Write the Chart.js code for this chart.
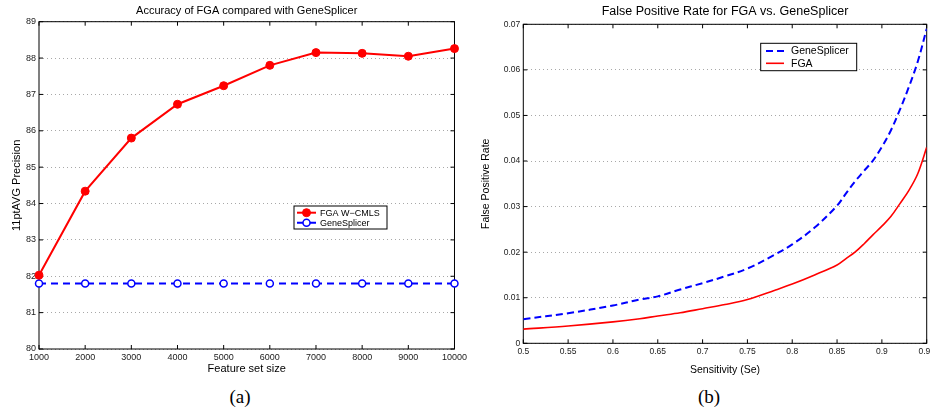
<!DOCTYPE html>
<html>
<head>
<meta charset="utf-8">
<script src="https://cdn.jsdelivr.net/npm/chart.js@4.4.1/dist/chart.umd.min.js"></script>
<style>
  html, body { margin: 0; padding: 0; background: #fff; width: 930px; height: 416px; overflow: hidden; }
  .wrap { position: absolute; top: 0; width: 470px; height: 385px; }
  #wrap-a { left: 0; }
  #wrap-b { left: 470px; }
  .cap { position: absolute; top: 385px; width: 60px; text-align: center; font-family: "Liberation Serif", "Times New Roman", serif; font-size: 19px; line-height: 24px; color: #000; }
</style>
</head>
<body>
<div class="wrap" id="wrap-a"><canvas id="chartA" width="470" height="385"></canvas></div>
<div class="wrap" id="wrap-b"><canvas id="chartB" width="470" height="385"></canvas></div>
<div class="cap" style="left:210px">(a)</div>
<div class="cap" style="left:679px">(b)</div>
<script>
// (a) accuracy vs feature set size
const featureSizes = [1000, 2000, 3000, 4000, 5000, 6000, 7000, 8000, 9000, 10000];
const fgaPrecision = [82.03, 84.34, 85.80, 86.73, 87.24, 87.80, 88.15, 88.13, 88.05, 88.26];
const genePrecision = [81.8, 81.8, 81.8, 81.8, 81.8, 81.8, 81.8, 81.8, 81.8, 81.8];
const precisionTicks = [80, 81, 82, 83, 84, 85, 86, 87, 88, 89];

// (b) false positive rate vs sensitivity
const sensitivity = [0.5, 0.55, 0.6, 0.63, 0.65, 0.675, 0.7, 0.725, 0.75, 0.78, 0.8, 0.825, 0.85, 0.86, 0.87, 0.88, 0.89, 0.9, 0.91, 0.92, 0.93, 0.94, 0.95];
const geneFpr = [0.0053, 0.0066, 0.0083, 0.0096, 0.0103, 0.0118, 0.0132, 0.0147, 0.0164, 0.0194, 0.0217, 0.0254, 0.0302, 0.0329, 0.0355, 0.0378, 0.0401, 0.0431, 0.0467, 0.0512, 0.0562, 0.0618, 0.0690];
const fgaFpr = [0.0031, 0.0038, 0.0047, 0.0054, 0.0060, 0.0067, 0.0076, 0.0085, 0.0096, 0.0116, 0.0130, 0.0150, 0.0172, 0.0186, 0.0200, 0.0218, 0.0238, 0.0257, 0.0278, 0.0306, 0.0335, 0.0372, 0.0430];
const sensTicks = [0.5, 0.55, 0.6, 0.65, 0.7, 0.75, 0.8, 0.85, 0.9, 0.95];
const fprTicks = [0, 0.01, 0.02, 0.03, 0.04, 0.05, 0.06, 0.07];

const FONT = "'Liberation Sans', Arial, Helvetica, sans-serif";

function toPoints(xs, ys) {
  return xs.map((x, i) => ({ x: x, y: ys[i] }));
}

// matlab style box with inward tick marks
const boxPlugin = {
  id: "matlabBox",
  beforeDatasetsDraw(chart) {
    const { ctx, chartArea: a, scales } = chart;
    const len = 4;
    ctx.save();
    ctx.strokeStyle = "#000";
    ctx.lineWidth = 1;
    ctx.setLineDash([]);
    ctx.strokeRect(a.left, a.top, a.right - a.left, a.bottom - a.top);
    ctx.beginPath();
    scales.x.ticks.forEach((t) => {
      const px = scales.x.getPixelForValue(t.value);
      ctx.moveTo(px, a.bottom);
      ctx.lineTo(px, a.bottom - len);
      ctx.moveTo(px, a.top);
      ctx.lineTo(px, a.top + len);
    });
    scales.y.ticks.forEach((t) => {
      const py = scales.y.getPixelForValue(t.value);
      ctx.moveTo(a.left, py);
      ctx.lineTo(a.left + len, py);
      ctx.moveTo(a.right, py);
      ctx.lineTo(a.right - len, py);
    });
    ctx.stroke();
    ctx.restore();
  },
};

// legend box drawn inside the plot
const boxLegend = {
  id: "boxLegend",
  afterDraw(chart, args, o) {
    const { ctx, chartArea: a } = chart;
    const x = a.left + o.x;
    const y = a.top + o.y;
    ctx.save();
    ctx.fillStyle = "#fff";
    ctx.fillRect(x, y, o.w, o.h);
    ctx.strokeStyle = "#000";
    ctx.lineWidth = 1;
    ctx.strokeRect(x, y, o.w, o.h);
    ctx.font = o.font;
    ctx.textBaseline = "middle";
    chart.data.datasets.forEach((ds, i) => {
      const cy = y + o.rowTop + i * o.rowGap;
      ctx.strokeStyle = ds.borderColor;
      ctx.lineWidth = ds.borderWidth;
      ctx.setLineDash(ds.borderDash || []);
      ctx.beginPath();
      ctx.moveTo(x + o.line0, cy);
      ctx.lineTo(x + o.line1, cy);
      ctx.stroke();
      ctx.setLineDash([]);
      if (ds.pointRadius > 0) {
        ctx.beginPath();
        ctx.arc(x + (o.line0 + o.line1) / 2, cy, ds.pointRadius, 0, Math.PI * 2);
        ctx.fillStyle = ds.pointBackgroundColor;
        ctx.fill();
        ctx.lineWidth = ds.pointBorderWidth;
        ctx.strokeStyle = ds.pointBorderColor;
        ctx.stroke();
      }
      ctx.fillStyle = "#000";
      ctx.fillText(ds.label, x + o.textX, cy + 0.5);
    });
    ctx.restore();
  },
};

function axisOpts(tickValues, tickFont, fixed, title) {
  return {
    type: "linear",
    min: tickValues[0],
    max: tickValues[tickValues.length - 1],
    afterBuildTicks: (scale) => {
      scale.ticks = tickValues.map((v) => ({ value: v }));
    },
    afterFit: fixed,
    ticks: {
      color: "#1a1a1a",
      font: { family: FONT, size: tickFont },
      padding: 3,
      maxRotation: 0,
      autoSkip: false,
      callback: (v) => String(v),
    },
    grid: { drawTicks: false, color: "#a8a8a8", lineWidth: 1 },
    border: { display: false, dash: [1, 3] },
    title: title,
  };
}

function initChartA() {
  const ctx = document.getElementById("chartA");
  new Chart(ctx, {
    type: "line",
    data: {
      datasets: [
        {
          label: "FGA W\u2212CMLS",
          data: toPoints(featureSizes, fgaPrecision),
          borderColor: "#ff0000",
          borderWidth: 2,
          pointRadius: 4,
          pointBackgroundColor: "#ff0000",
          pointBorderColor: "#ff0000",
          pointBorderWidth: 1,
          tension: 0,
          clip: false,
        },
        {
          label: "GeneSplicer",
          data: toPoints(featureSizes, genePrecision),
          borderColor: "#0000ff",
          borderWidth: 2,
          borderDash: [7, 5],
          pointRadius: 3.5,
          pointBackgroundColor: "#ffffff",
          pointBorderColor: "#0000ff",
          pointBorderWidth: 1.5,
          tension: 0,
          clip: false,
        },
      ],
    },
    options: {
      responsive: false,
      devicePixelRatio: 1,
      animation: false,
      layout: { padding: { top: 0, left: 0, right: 15, bottom: 0 } },
      plugins: {
        legend: { display: false },
        tooltip: { enabled: false },
        title: {
          display: true,
          fullSize: false,
          text: "Accuracy of FGA compared with GeneSplicer",
          color: "#000",
          font: { family: FONT, size: 11, weight: "normal" },
          padding: { top: 4, bottom: 4.5 },
        },
        boxLegend: {
          x: 255, y: 184.3, w: 93, h: 23,
          rowTop: 6.7, rowGap: 10, line0: 3, line1: 22, textX: 26,
          font: "9px " + FONT,
        },
      },
      scales: {
        x: Object.assign(
          axisOpts(featureSizes, 9, (s) => { s.height = 36; }, {
            display: true, text: "Feature set size", color: "#000",
            font: { family: FONT, size: 11 }, padding: { top: 0, bottom: 9.4 },
          }),
          { grid: { display: false, drawTicks: false } }
        ),
        y: axisOpts(precisionTicks, 9, (s) => { s.width = 39; }, {
          display: true, text: "11ptAVG Precision", color: "#000",
          font: { family: FONT, size: 11 }, padding: { top: 10.4, bottom: 0 },
        }),
      },
    },
    plugins: [boxPlugin, boxLegend],
  });
}

function initChartB() {
  const ctx = document.getElementById("chartB");
  new Chart(ctx, {
    type: "line",
    data: {
      datasets: [
        {
          label: "GeneSplicer",
          data: toPoints(sensitivity, geneFpr),
          borderColor: "#0000ff",
          borderWidth: 2,
          borderDash: [7, 4],
          pointRadius: 0,
          tension: 0.35,
        },
        {
          label: "FGA",
          data: toPoints(sensitivity, fgaFpr),
          borderColor: "#ff0000",
          borderWidth: 1.6,
          pointRadius: 0,
          tension: 0.35,
        },
      ],
    },
    options: {
      responsive: false,
      devicePixelRatio: 1,
      animation: false,
      layout: { padding: { top: 0, left: 0, right: 13.3, bottom: 0 } },
      plugins: {
        legend: { display: false },
        tooltip: { enabled: false },
        title: {
          display: true,
          fullSize: false,
          text: "False Positive Rate for FGA vs. GeneSplicer",
          color: "#000",
          font: { family: FONT, size: 12.5, weight: "normal" },
          padding: { top: 4.5, bottom: 4.8 },
        },
        boxLegend: {
          x: 237.4, y: 19, w: 96, h: 27.4,
          rowTop: 7.7, rowGap: 12.3, line0: 5.3, line1: 23.3, textX: 30.3,
          font: "10.5px " + FONT,
        },
      },
      scales: {
        x: Object.assign(
          axisOpts(sensTicks, 8.5, (s) => { s.height = 41.7; }, {
            display: true, text: "Sensitivity (Se)", color: "#000",
            font: { family: FONT, size: 10.5 }, padding: { top: 0, bottom: 8.7 },
          }),
          { grid: { display: false, drawTicks: false } }
        ),
        y: axisOpts(fprTicks, 8.5, (s) => { s.width = 53.3; }, {
          display: true, text: "False Positive Rate", color: "#000",
          font: { family: FONT, size: 10.5 }, padding: { top: 9.4, bottom: 0 },
        }),
      },
    },
    plugins: [boxPlugin, boxLegend],
  });
}

document.addEventListener("DOMContentLoaded", () => {
  initChartA();
  initChartB();
});
</script>
</body>
</html>
